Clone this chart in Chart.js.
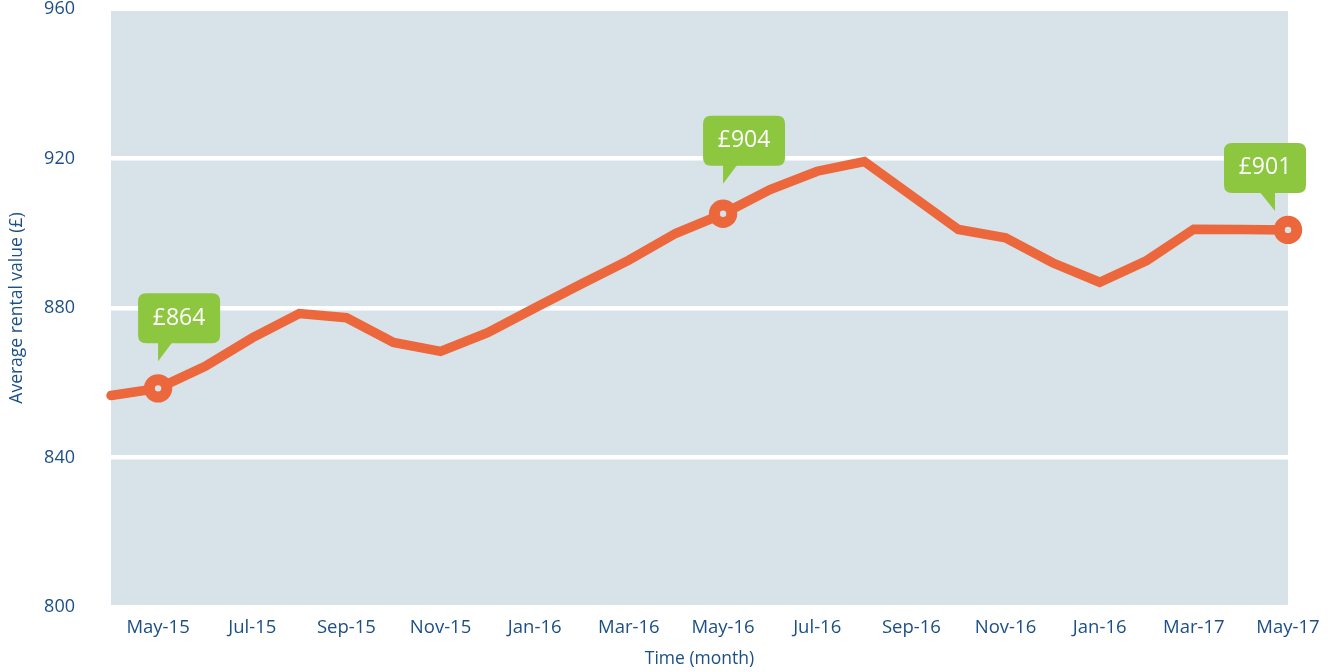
<!DOCTYPE html>
<html>
<head>
<meta charset="utf-8">
<script src="https://cdn.jsdelivr.net/npm/chart.js@4"></script>
<style>
  html, body { margin: 0; padding: 0; background: #ffffff; }
  #wrap { width: 1328px; height: 672px; }
</style>
</head>
<body>
<div id="wrap"><canvas id="c" width="1328" height="672"></canvas></div>
<script>
// ---- Data ----
const categories = ['Apr-15','May-15','Jun-15','Jul-15','Aug-15','Sep-15','Oct-15','Nov-15','Dec-15',
  'Jan-16','Feb-16','Mar-16','Apr-16','May-16','Jun-16','Jul-16','Aug-16','Sep-16','Oct-16','Nov-16','Dec-16',
  'Jan-17','Feb-17','Mar-17','Apr-17','May-17'];
const rentalValues = [856.6, 858.5, 864.4, 872.0, 878.5, 877.4, 870.8, 868.4, 873.4,
  880.0, 886.5, 892.8, 900.0, 905.2, 911.7, 916.6, 919.2, 910.1, 901.0, 898.8, 892.1,
  886.9, 892.7, 901.1, 901.0, 900.9];
const tickLabels = ['', 'May-15', '', 'Jul-15', '', 'Sep-15', '', 'Nov-15', '', 'Jan-16', '', 'Mar-16', '',
  'May-16', '', 'Jul-16', '', 'Sep-16', '', 'Nov-16', '', 'Jan-16', '', 'Mar-17', '', 'May-17'];
const highlightIndices = [1, 13, 25];
const highlightLabels = ['£864', '£904', '£901'];
const yTicks = [800, 840, 880, 920, 960];

// ---- Styles ----
const TEXT = '#1b4f86';
const LINE = '#ec673c';
const BG = '#d7e3e9';
const GREEN = '#8dc63f';
const FONT = "'Open Sans', 'Noto Sans', sans-serif";

const calloutStyle = [
  { dx: 0,   dy: 27, side: 'left' },
  { dx: 0,   dy: 30, side: 'left' },
  { dx: -13, dy: 19, side: 'right' }
];

const bgPlugin = {
  id: 'plotBg',
  beforeDraw(chart) {
    const { ctx, chartArea: a } = chart;
    ctx.save();
    ctx.fillStyle = BG;
    ctx.fillRect(a.left, a.top + 2, a.right - a.left, a.bottom - a.top - 4);
    ctx.restore();
  }
};

function roundRect(ctx, x, y, w, h, r) {
  ctx.beginPath();
  ctx.moveTo(x + r, y);
  ctx.lineTo(x + w - r, y);
  ctx.quadraticCurveTo(x + w, y, x + w, y + r);
  ctx.lineTo(x + w, y + h - r);
  ctx.quadraticCurveTo(x + w, y + h, x + w - r, y + h);
  ctx.lineTo(x + r, y + h);
  ctx.quadraticCurveTo(x, y + h, x, y + h - r);
  ctx.lineTo(x, y + r);
  ctx.quadraticCurveTo(x, y, x + r, y);
  ctx.closePath();
}

const calloutPlugin = {
  id: 'callouts',
  afterDatasetsDraw(chart) {
    const { ctx } = chart;
    const meta = chart.getDatasetMeta(0);
    const boxW = 82, boxH = 50, triH = 18, triW = 15, r = 8;
    highlightIndices.forEach((idx, k) => {
      const pt = meta.data[idx];
      const st = calloutStyle[k];
      const tipX = pt.x + st.dx;
      const tipY = pt.y - st.dy;
      const baseY = tipY - triH;
      let boxX;
      ctx.save();
      ctx.fillStyle = GREEN;
      ctx.beginPath();
      if (st.side === 'left') {
        boxX = tipX - 20;
        ctx.moveTo(tipX, baseY - 2);
        ctx.lineTo(tipX + triW, baseY - 2);
        ctx.lineTo(tipX, tipY);
      } else {
        boxX = tipX + 31 - boxW;
        ctx.moveTo(tipX, baseY - 2);
        ctx.lineTo(tipX - triW - 1, baseY - 2);
        ctx.lineTo(tipX, tipY);
      }
      ctx.closePath();
      ctx.fill();
      roundRect(ctx, boxX, baseY - boxH, boxW, boxH, r);
      ctx.fill();
      ctx.fillStyle = '#ffffff';
      ctx.font = "23px " + FONT;
      ctx.textAlign = 'center';
      ctx.textBaseline = 'middle';
      ctx.fillText(highlightLabels[k], boxX + boxW / 2, baseY - boxH / 2);
      ctx.restore();
    });
  }
};

new Chart(document.getElementById('c'), {
  type: 'line',
  data: {
    labels: categories,
    datasets: [{
      data: rentalValues,
      borderColor: LINE,
      borderWidth: 9.5,
      borderCapStyle: 'round',
      borderJoinStyle: 'miter',
      tension: 0,
      pointRadius: (c) => highlightIndices.includes(c.dataIndex) ? 8.7 : 0,
      pointBorderWidth: 11,
      pointBorderColor: LINE,
      pointBackgroundColor: BG,
      pointHoverRadius: 0
    }]
  },
  options: {
    responsive: false,
    maintainAspectRatio: false,
    animation: false,
    events: [],
    layout: { autoPadding: false, padding: { top: 9, right: 40, left: 0, bottom: 0 } },
    plugins: {
      legend: { display: false },
      tooltip: { enabled: false }
    },
    scales: {
      x: {
        type: 'category',
        offset: false,
        grid: { display: false, drawTicks: false },
        border: { display: false },
        ticks: {
          autoSkip: false,
          maxRotation: 0,
          minRotation: 0,
          padding: 10,
          color: TEXT,
          font: { family: FONT, size: 18.5 },
          callback: (v, i) => tickLabels[i]
        },
        title: {
          display: true,
          text: 'Time (month)',
          color: TEXT,
          font: { family: FONT, size: 17.5 },
          padding: { top: 0, bottom: 2 }
        },
        afterFit: (s) => { s.height = 65; s.paddingLeft = 0; s.paddingRight = 0; }
      },
      y: {
        min: 800,
        max: 960,
        afterBuildTicks: (s) => { s.ticks = yTicks.map(v => ({ value: v })); },
        grid: {
          drawTicks: false,
          lineWidth: 4.5,
          color: (c) => (c.tick && (c.tick.value === 800 || c.tick.value === 960)) ? 'rgba(0,0,0,0)' : '#ffffff'
        },
        border: { display: false },
        ticks: {
          padding: 36,
          color: TEXT,
          font: { family: FONT, size: 18, lineHeight: 1 }
        },
        title: {
          display: true,
          text: 'Average rental value (£)',
          color: TEXT,
          font: { family: FONT, size: 17.5 },
          padding: { top: 7, bottom: 0 }
        },
        afterFit: (s) => { s.width = 111; s.paddingTop = 0; s.paddingBottom = 0; }
      }
    }
  },
  plugins: [bgPlugin, calloutPlugin]
});
</script>
</body>
</html>
